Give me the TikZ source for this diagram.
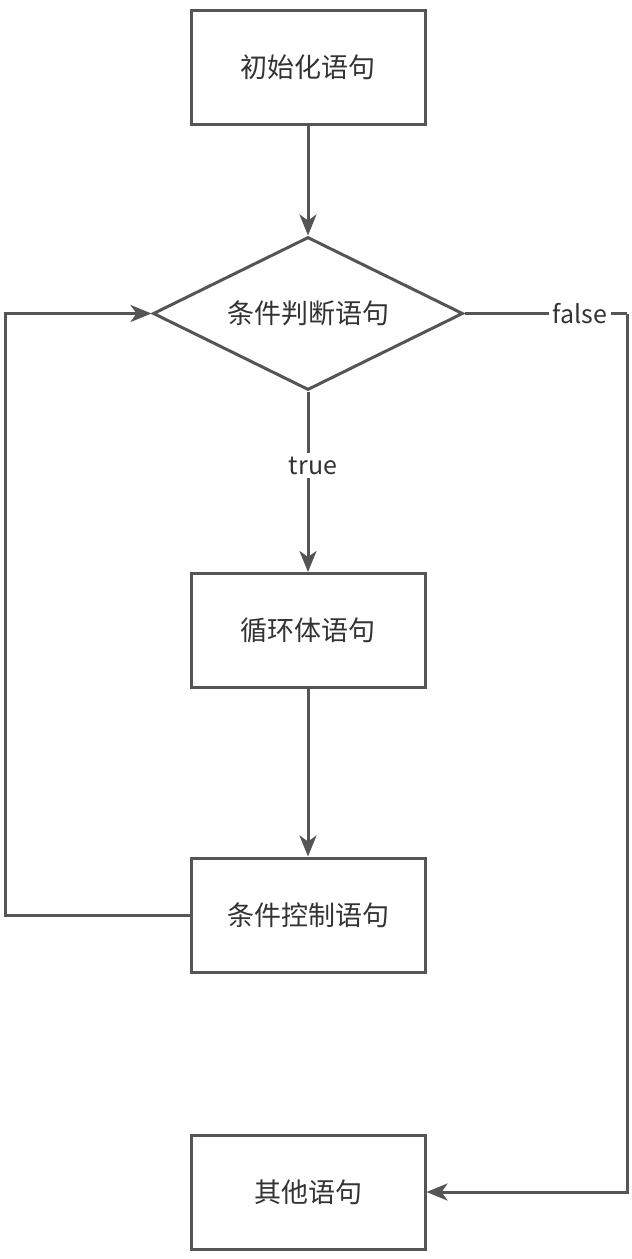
\documentclass[tikz,border=0pt]{standalone}
\usepackage{fontspec}
\setmainfont{Noto Sans CJK SC}
\usetikzlibrary{shapes.geometric,arrows.meta}
\definecolor{edge}{HTML}{555555}
\definecolor{ink}{HTML}{333333}
\tikzset{
  stepbox/.style={draw=edge, line width=3pt, fill=white, minimum width=234pt,
    minimum height=114pt, inner sep=0pt, text=ink, font=\fontsize{27}{32}\selectfont},
  decision/.style={draw=edge, line width=3pt, fill=white, shape=diamond, aspect=2,
    minimum width=310pt, minimum height=153pt, inner sep=0pt, text=ink,
    font=\fontsize{27}{32}\selectfont},
  flow/.style={draw=edge, line width=3pt, -{Stealth[length=21pt,width=17pt,inset=6pt]}},
  plain/.style={draw=edge, line width=3pt},
  tag/.style={fill=white, text=ink, inner sep=4pt, font=\fontsize{25}{30}\selectfont}
}
\begin{document}
\begin{tikzpicture}[x=1pt,y=-1pt]
  \useasboundingbox (0,0) rectangle (632,1259);
  \node[stepbox] (init) at (308,67) {初始化语句};
  \node[decision] (cond) at (308,313.5) {条件判断语句};
  \node[stepbox] (body) at (308,630.5) {循环体语句};
  \node[stepbox] (ctrl) at (308,915) {条件控制语句};
  \node[stepbox] (other) at (308,1192) {其他语句};

  \coordinate (lb) at (5,915);
  \coordinate (lt) at (5,313.5);
  \coordinate (rt) at (627,313.5);
  \coordinate (rb) at (627,1192);

  \draw[flow] (init) -- (cond);
  \draw[flow] (cond) -- node[tag, pos=0.41, xshift=5pt] {true} (body);
  \draw[flow] (body) -- (ctrl);
  \draw[flow] (ctrl.west) -- (lb) -- (lt) -- (cond.west);
  \draw[plain] (cond.east) -- node[tag, pos=0.71] {false} (rt);
  \draw[flow] (rt) -- (rb) -- (other.east);
\end{tikzpicture}
\end{document}
